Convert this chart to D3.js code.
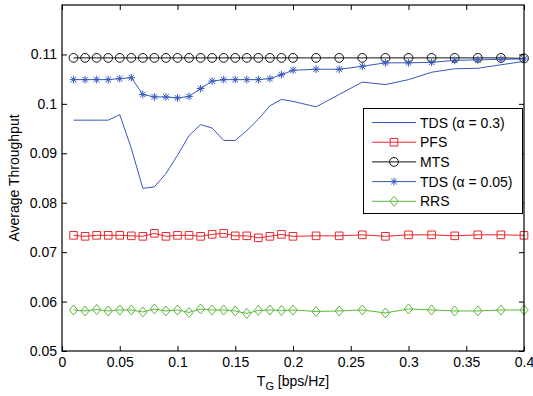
<!DOCTYPE html>
<html><head><meta charset="utf-8">
<script src="https://cdn.jsdelivr.net/npm/d3@7"></script>
<style>body{margin:0;background:#fff} text{font-family:"Liberation Sans",Arial,Helvetica,sans-serif;fill:#000}</style>
</head><body><svg id="c" width="533" height="396"></svg>
<script>
const xVals = [0.01,0.02,0.03,0.04,0.05,0.06,0.07,0.08,0.09,0.10,0.11,0.12,0.13,0.14,0.15,0.16,0.17,0.18,0.19,0.20,
               0.22,0.24,0.26,0.28,0.30,0.32,0.34,0.36,0.38,0.40];
const tds03 = [0.0967,0.0967,0.0967,0.0967,0.0978,0.0910,0.0829,0.0832,0.0859,0.0896,0.0936,0.0958,0.0951,0.0926,0.0926,0.0946,0.0969,0.0996,0.1009,0.1005,
               0.0994,0.1019,0.1044,0.1039,0.1049,0.1064,0.1071,0.1072,0.1079,0.1086];
const pfs = [0.0734,0.0732,0.0734,0.0734,0.0734,0.0733,0.0732,0.0738,0.0732,0.0734,0.0734,0.0732,0.0736,0.0738,0.0733,0.0733,0.0729,0.0732,0.0736,0.0732,
             0.0733,0.0733,0.0735,0.0732,0.0735,0.0735,0.0733,0.0735,0.0735,0.0734];
const mts = [0.1093,0.1093,0.1093,0.1093,0.1093,0.1093,0.1093,0.1093,0.1093,0.1093,0.1093,0.1093,0.1093,0.1093,0.1093,0.1093,0.1093,0.1093,0.1093,0.1093,
             0.1093,0.1093,0.1093,0.1093,0.1093,0.1093,0.1093,0.1093,0.1093,0.1092];
const tds005 = [0.1049,0.1049,0.1049,0.1049,0.1051,0.1053,0.1019,0.1014,0.1014,0.1012,0.1015,0.1031,0.1046,0.1049,0.1049,0.1049,0.1049,0.1051,0.1059,0.1068,
                0.1070,0.1070,0.1076,0.1083,0.1083,0.1084,0.1088,0.1089,0.1090,0.1091];
const rrs = [0.0583,0.0581,0.0584,0.0581,0.0583,0.0583,0.0579,0.0585,0.0581,0.0583,0.0578,0.0585,0.0583,0.0583,0.0581,0.0576,0.0582,0.0583,0.0582,0.0583,
             0.0580,0.0581,0.0583,0.0577,0.0585,0.0583,0.0581,0.0581,0.0583,0.0583];
const seriesNames = ["TDS (\u03b1 = 0.3)","PFS","MTS","TDS (\u03b1 = 0.05)","RRS"];
const xTicks = [0,0.05,0.1,0.15,0.2,0.25,0.3,0.35,0.4];
const xTickLabels = ["0","0.05","0.1","0.15","0.2","0.25","0.3","0.35","0.4"];
const yTicks = [0.05,0.06,0.07,0.08,0.09,0.1,0.11];
const yTickLabels = ["0.05","0.06","0.07","0.08","0.09","0.1","0.11"];

const series = [
  {name: seriesNames[0], vals: tds03, color: "#3658bd", marker: "none"},
  {name: seriesNames[1], vals: pfs, color: "#e8282c", marker: "square"},
  {name: seriesNames[2], vals: mts, color: "#111111", marker: "circle"},
  {name: seriesNames[3], vals: tds005, color: "#3658bd", marker: "star"},
  {name: seriesNames[4], vals: rrs, color: "#5cb83a", marker: "diamond"}
];

const L = 62, R = 524, T = 5, B = 351;
const FS = 14;
const svg = d3.select("#c");
const x = d3.scaleLinear().domain([0,0.4]).range([L,R]);
const y = d3.scaleLinear().domain([0.05,0.12]).range([B,T]);

svg.append("rect").attr("x",0).attr("y",0).attr("width",533).attr("height",396).attr("fill","#fff");

function markerPath(type){
  if(type==="square") return "M-3.8,-3.8H3.8V3.8H-3.8Z";
  if(type==="diamond") return "M0,-5L4.2,0L0,5L-4.2,0Z";
  if(type==="star") return "M-3.8,0H3.8M0,-3.8V3.8M-2.8,-2.8L2.8,2.8M-2.8,2.8L2.8,-2.8";
  return null;
}
function drawMarker(g, type, color){
  if(type==="circle"){
    g.append("circle").attr("r",4.4).attr("fill","none").attr("stroke",color).attr("stroke-width",1);
  } else if(type!=="none"){
    g.append("path").attr("d",markerPath(type)).attr("fill","none").attr("stroke",color).attr("stroke-width",1);
  }
}

const line = d3.line().x(d=>x(d[0])).y(d=>y(d[1]));
series.forEach(s=>{
  const pts = xVals.map((xv,i)=>[xv,s.vals[i]]);
  svg.append("path").attr("d",line(pts)).attr("fill","none").attr("stroke",s.color).attr("stroke-width",1);
  if(s.marker!=="none"){
    pts.forEach(p=>{
      const g = svg.append("g").attr("transform",`translate(${x(p[0])},${y(p[1])})`);
      drawMarker(g,s.marker,s.color);
    });
  }
});

// axes frame
svg.append("rect").attr("x",L).attr("y",T).attr("width",R-L).attr("height",B-T)
  .attr("fill","none").attr("stroke","#000").attr("stroke-width",1.2);

const tk = 5;
const xAxis = d3.axisBottom(x).tickValues(xTicks).tickFormat((d,i)=>xTickLabels[i]).tickSizeInner(-tk).tickSizeOuter(0).tickPadding(6);
const gx = svg.append("g").attr("transform",`translate(0,${B})`).call(xAxis);
const xAxisTop = d3.axisTop(x).tickValues(xTicks).tickFormat("").tickSizeInner(-tk).tickSizeOuter(0);
const gxt = svg.append("g").attr("transform",`translate(0,${T})`).call(xAxisTop);
const yAxis = d3.axisLeft(y).tickValues(yTicks).tickFormat((d,i)=>yTickLabels[i]).tickSizeInner(-tk).tickSizeOuter(0).tickPadding(5);
const gy = svg.append("g").attr("transform",`translate(${L},0)`).call(yAxis);
const yAxisR = d3.axisRight(y).tickValues(yTicks).tickFormat("").tickSizeInner(-tk).tickSizeOuter(0);
const gyr = svg.append("g").attr("transform",`translate(${R},0)`).call(yAxisR);
[gx,gxt,gy,gyr].forEach(g=>{
  g.select(".domain").remove();
  g.selectAll("line").attr("stroke","#000");
  g.selectAll("text").attr("font-size",FS).attr("font-family","Liberation Sans, Arial, sans-serif").attr("fill","#000");
});

// axis labels
const xl = svg.append("text").attr("x",(L+R)/2).attr("y",386).attr("text-anchor","middle").attr("font-size",FS);
xl.append("tspan").text("T");
xl.append("tspan").attr("dy",4).attr("font-size",11).text("G");
xl.append("tspan").attr("dy",-4).text(" [bps/Hz]");
svg.append("text").attr("transform",`translate(19,${(T+B)/2}) rotate(-90)`).attr("text-anchor","middle").attr("font-size",FS).text("Average Throughput");

// legend
const lg = svg.append("g");
lg.append("rect").attr("x",363.5).attr("y",108.5).attr("width",159).attr("height",105).attr("fill","#fff").attr("stroke","#000").attr("stroke-width",1);
series.forEach((s,i)=>{
  const ly = 122.5 + i*19.7;
  lg.append("line").attr("x1",372).attr("x2",416).attr("y1",ly).attr("y2",ly).attr("stroke",s.color).attr("stroke-width",1);
  const g = lg.append("g").attr("transform",`translate(394,${ly})`);
  drawMarker(g,s.marker,s.color);
  lg.append("text").attr("x",420).attr("y",ly+5).attr("font-size",FS).text(s.name);
});
</script></body></html>
